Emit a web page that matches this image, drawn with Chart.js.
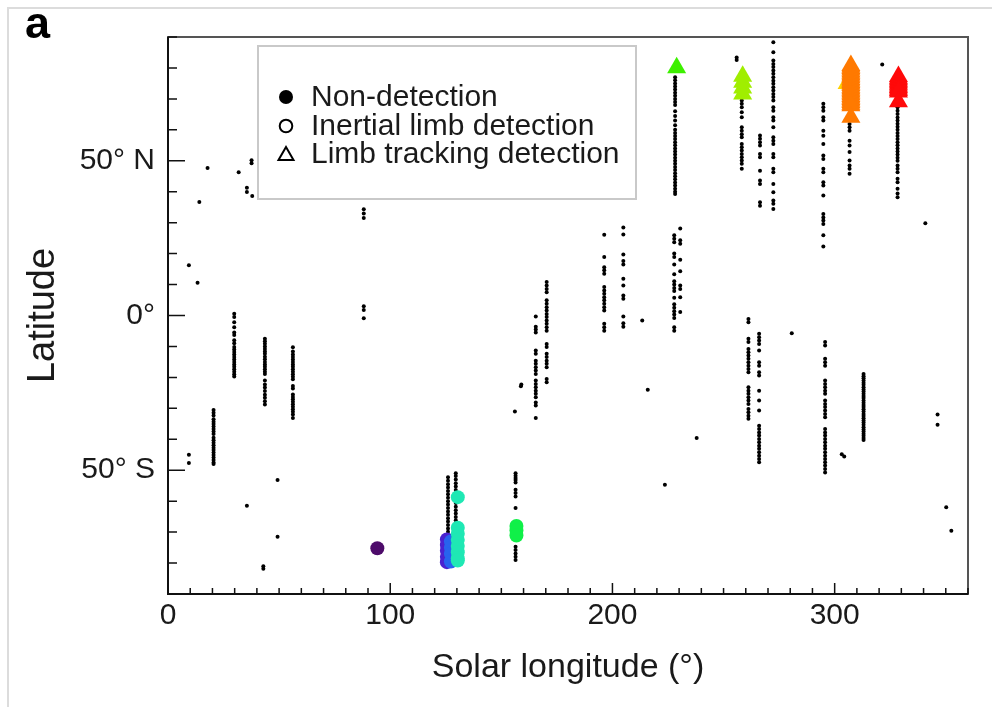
<!DOCTYPE html>
<html>
<head>
<meta charset="utf-8">
<script src="https://cdn.jsdelivr.net/npm/chart.js@4.4.1/dist/chart.umd.min.js"></script>
<style>
  html, body { margin: 0; padding: 0; background: #fff; }
  #wrap { position: relative; width: 992px; height: 707px; overflow: hidden; }
  #frame { position: absolute; left: 7px; top: 7px; width: 1000px; height: 720px;
           border-left: 2px solid #dcdcdc; border-top: 2px solid #dcdcdc; }
  #panel { position: absolute; left: 25px; top: 0px; font: bold 45px "Liberation Sans", Arial, sans-serif;
           line-height: 45px; color: #000; }
  #legend { position: absolute; left: 257px; top: 45px; width: 376px; height: 151px;
            border: 2px solid #c9c9c9; background: #fff;
            font: 30px "Liberation Sans", Arial, sans-serif; color: #1a1a1a; }
  .item { position: absolute; left: 0; height: 30px; line-height: 30px; white-space: nowrap; }
  .item svg { position: absolute; left: 17px; top: 6px; }
  .item span { position: absolute; left: 52px; top: 0; }
</style>
</head>
<body>
<div id="wrap">
  <canvas id="chart" width="992" height="707"></canvas>
  <div id="frame"></div>
  <div id="panel">a</div>
  <div id="legend">
    <div class="item" style="top:34px"><svg width="20" height="20"><circle cx="10" cy="10" r="7" fill="#000"/></svg><span>Non-detection</span></div>
    <div class="item" style="top:63px"><svg width="20" height="20"><circle cx="10" cy="10" r="6.3" fill="none" stroke="#000" stroke-width="2"/></svg><span>Inertial limb detection</span></div>
    <div class="item" style="top:91px"><svg width="20" height="20"><polygon points="10,3 17.5,16 2.5,16" fill="none" stroke="#000" stroke-width="2"/></svg><span>Limb tracking detection</span></div>
  </div>
</div>
<script>
// Non-detections: columns of observations (solar longitude, list of latitudes)
const colLs = [9.4, 20.5, 29.8, 43.6, 56.2, 126.0, 129.5, 156.4, 165.5, 170.4, 196.3, 204.9,
               227.8, 230.5, 261.2, 266.0, 295.7, 313.0, 228.2, 258.2, 266.4, 272.4, 294.9, 306.7, 328.3];
const colLat = [
  [-45.0, -47.7],
  [-30.5, -31.4, -32.3, -33.5, -34.3, -35.1, -35.9, -36.7, -37.5, -38.3, -39.5, -40.3, -41.1, -41.9, -42.7, -43.5, -44.3, -45.1, -45.9, -46.7, -47.5, -48.0],
  [0.6, -0.5, -2.2, -3.8, -5.5, -6.3, -8.0, -9.0, -10.2, -11.0, -11.8, -12.6, -13.4, -14.2, -15.0, -15.8, -16.6, -17.4, -18.2, -19.0, -19.7],
  [-7.5, -8.3, -9.1, -10.0, -10.8, -11.6, -12.4, -13.3, -14.1, -15.0, -15.8, -16.6, -17.4, -18.2, -18.9, -21.0, -22.3, -23.3, -24.4, -25.6, -26.6, -27.7, -28.8],
  [-10.3, -11.6, -12.6, -13.4, -14.2, -15.0, -15.8, -16.6, -17.4, -18.2, -19.0, -19.8, -20.6, -22.8, -23.6, -25.5, -26.3, -27.1, -27.9, -28.7, -29.5, -30.3, -31.1, -32.0, -33.1],
  [-52.3, -53.4, -54.5, -55.6, -56.7, -57.8, -58.9, -60.0, -61.1, -62.2, -63.3, -64.4, -65.5, -66.6, -67.7, -68.8, -69.9, -71.0, -72.1, -73.2, -74.3, -75.4, -76.5, -77.6],
  [-51.0, -51.9, -53.0, -54.2, -55.3, -56.4, -57.5, -60.6, -61.8, -62.9, -64.0, -65.1, -66.2, -67.3],
  [-51.0, -51.8, -52.5, -53.2, -54.0, -56.3, -57.4, -58.5, -62.2, -74.7, -75.8, -76.9, -78.0, -79.0],
  [-0.3, -3.6, -4.5, -5.5, -11.3, -12.4, -14.6, -15.6, -16.7, -17.8, -18.9, -21.0, -22.1, -23.2, -24.3, -25.3, -26.4, -28.1, -29.1, -33.1],
  [10.8, 9.7, 8.6, 7.5, 4.9, 3.8, 2.7, 1.6, 0.5, -0.5, -1.6, -2.7, -3.8, -4.9, -9.2, -10.2, -12.4, -13.4, -14.6, -15.6, -16.7, -20.5, -21.6],
  [26.1, 18.9, 15.6, 14.6, 13.5, 9.2, 8.1, 7.0, 5.9, 4.9, 3.8, 2.7, 1.6, -2.7, -3.8, -4.9],
  [28.4, 26.2, 19.7, 17.6, 16.5, 11.9, 9.7, 6.5, 5.4, -0.3, -2.5, -3.6],
  [25.9, 24.8, 23.7, 20.0, 18.9, 16.5, 13.3, 11.1, 10.0, 8.9, 7.9, 5.7, 3.6, 2.5, 1.4, 0.3, -0.8, -3.8, -4.9],
  [28.1, 24.3, 23.2, 18.0, 14.3, 9.7, 8.6, 5.9, 1.1],
  [-1.1, -2.2, -7.5, -8.6, -10.8, -11.9, -12.9, -14.0, -15.1, -16.2, -17.3, -18.3, -23.2, -24.3, -25.3, -26.4, -27.5, -28.6, -30.2, -31.3, -32.4, -33.4],
  [-5.9, -7.0, -8.1, -9.2, -11.3, -15.1, -16.2, -18.3, -19.4, -24.3, -27.5, -30.7, -35.6, -36.7, -37.8, -38.8, -39.9, -41.0, -42.1, -43.1, -44.2, -45.3, -46.4, -47.4],
  [-8.6, -9.7, -14.0, -15.1, -16.2, -21.0, -22.1, -23.2, -24.3, -25.3, -27.5, -28.6, -29.6, -30.7, -31.8, -32.9, -36.7, -37.8, -38.8, -39.9, -41.0, -42.1, -43.1, -44.2, -45.3, -46.4, -47.4, -48.5, -49.6, -50.7],
  [-18.9, -19.6, -20.3, -21.0, -21.7, -22.4, -23.2, -23.9, -24.6, -25.3, -26.0, -26.7, -27.5, -28.2, -28.9, -29.6, -30.3, -31.0, -31.8, -32.5, -33.2, -33.9, -34.6, -35.3, -36.1, -36.8, -37.5, -38.2, -38.9, -39.6, -40.2],
  [77.0, 76.0, 75.0, 74.0, 73.0, 72.0, 71.0, 70.0, 69.0, 68.0, 66.0, 64.5, 63.0, 61.5, 60.0, 59.0, 58.0, 57.0, 56.0, 55.0, 54.0, 53.0, 52.0, 51.0, 50.0, 49.0, 48.0, 47.0, 46.0, 45.0, 44.0, 43.0, 42.0, 41.0, 40.0, 39.3],
  [69.5, 68.4, 67.3, 65.7, 64.1, 60.8, 59.7, 58.6, 57.6, 55.4, 54.4, 53.3, 52.2, 51.1, 50.1, 49.0, 47.4],
  [58.2, 57.1, 56.0, 54.9, 52.2, 51.1, 46.8, 43.6, 42.5, 36.6, 35.5],
  [88.3, 85.1, 82.4, 81.3, 80.3, 79.2, 78.1, 77.0, 75.9, 74.9, 73.8, 72.7, 71.6, 70.6, 69.5, 67.3, 66.2, 64.1, 63.0, 60.8, 57.6, 56.5, 55.4, 52.2, 51.1, 47.4, 46.3, 42.5, 39.8, 37.2, 36.1, 34.4],
  [68.4, 67.3, 66.2, 64.1, 63.0, 59.7, 58.1, 55.4, 51.7, 50.6, 47.4, 46.3, 43.1, 42.0, 38.8, 32.8, 31.7, 30.7, 29.6, 25.9, 22.3],
  [61.9, 60.8, 59.7, 56.5, 54.9, 52.8, 50.1, 48.5, 47.4, 45.8],
  [67.3, 66.2, 65.1, 64.0, 63.0, 62.0, 61.0, 60.0, 59.0, 58.0, 57.0, 56.0, 55.0, 54.0, 53.0, 52.0, 51.0, 50.0, 48.5, 47.4, 46.3, 44.2, 43.1, 41.0, 39.4, 38.2]
];
// isolated non-detections [Ls, latitude]
const singles = [
  [13.3, 10.6], [9.4, 16.2], [14.1, 36.7], [17.8, 47.7], [31.8, 46.3], [37.6, 50.2], [37.6, 49.2],
  [35.5, 41.3], [35.5, 39.9], [37.9, 38.6], [88.1, 34.3], [88.1, 33.0], [88.1, 31.5], [88.1, 3.0],
  [88.1, 1.8], [88.1, -0.9], [49.3, -53.2], [35.5, -61.5], [49.3, -71.5], [42.9, -81.0], [42.9, -81.8],
  [156.1, -31.0], [158.8, -22.9], [159.0, -22.3], [213.4, -1.6], [215.9, -24.0], [223.6, -54.7],
  [237.9, -39.6], [280.7, -5.7], [303.2, -44.8], [304.3, -45.6], [346.3, -32.0], [346.3, -35.3],
  [350.2, -62.0], [352.5, -69.6], [340.8, 29.8], [321.4, 81.1], [255.9, 83.4], [255.9, 82.6]
];

// Inertial limb detections (filled circles), one colour per group
const circleColors = ['#4d0b6a', '#4a22d0', '#2763ee', '#1fe8b4', '#10f048'];
const circleLs = [94.2, 125.5, 127.3, 130.4, 156.8];
const circleLat = [
  [-75.2],
  [-72.4, -74.2, -76.0, -78.0, -79.7],
  [-73.0, -75.0, -77.0, -79.5],
  [-58.7, -68.6, -70.5, -72.5, -74.5, -76.5, -78.5, -79.2],
  [-68.0, -69.5, -71.1]
];

// Limb tracking detections (triangles)
const triColors = ['#3df000', '#a0ee00', '#ffd000', '#ff7a00', '#ff0a0a'];
const triLs = [228.9, 258.6, 305.6, 307.3, 328.7];
const triLat = [
  [80.1],
  [77.3, 75.4, 73.5, 71.6],
  [75.0],
  [80.8, 80.3, 79.8, 79.3, 78.8, 78.3, 77.8, 77.3, 76.8, 76.3, 75.8, 75.3, 74.8, 74.3, 73.8, 73.3,
   72.8, 72.3, 71.8, 71.3, 70.8, 70.3, 69.8, 69.3, 68.8, 68.3, 67.8, 64.1],
  [77.2, 76.7, 76.2, 75.7, 75.2, 74.7, 74.2, 73.7, 73.2, 72.7, 72.2, 69.1]
];

const xMajor = [0, 100, 200, 300];
const yLabels = { '50': '50° N', '0': '0°', '-50': '50° S' };

const FONT = '"Liberation Sans", Arial, sans-serif';

function toPoints(ls, lats) {
  return lats.map(v => ({ x: ls, y: v }));
}

const blackPts = [];
colLs.forEach((ls, i) => blackPts.push(...toPoints(ls, colLat[i])));
singles.forEach(p => blackPts.push({ x: p[0], y: p[1] }));

const datasets = [];
circleLs.forEach((ls, i) => {
  datasets.push({
    data: toPoints(ls, circleLat[i]),
    pointStyle: 'circle', pointRadius: 7,
    backgroundColor: circleColors[i], borderColor: circleColors[i], borderWidth: 0,
    order: 9 - i   // later groups on top
  });
});
triLs.forEach((ls, i) => {
  datasets.push({
    data: toPoints(ls, triLat[i]),
    pointStyle: 'triangle', pointRadius: 11,
    backgroundColor: triColors[i], borderColor: triColors[i], borderWidth: 0,
    order: 4 - i
  });
});
datasets.push({
  data: blackPts,
  pointStyle: 'circle', pointRadius: 2,
  backgroundColor: '#000', borderWidth: 0,
  order: 20
});

// frame round the plot and inward tick marks
const frameTicks = {
  id: 'frameTicks',
  beforeDatasetsDraw(chart) {
    const { ctx, chartArea: a, scales: { x, y } } = chart;
    ctx.save();
    ctx.lineWidth = 2;
    ctx.strokeStyle = '#555';
    ctx.strokeRect(a.left, a.top, a.right - a.left, a.bottom - a.top);
    ctx.strokeStyle = '#111';
    ctx.beginPath();
    ctx.moveTo(a.left, a.top); ctx.lineTo(a.left, a.bottom); ctx.lineTo(a.right, a.bottom);
    ctx.stroke();
    ctx.lineWidth = 1.5;
    ctx.beginPath();
    x.ticks.forEach(t => {
      const px = x.getPixelForValue(t.value);
      const len = xMajor.includes(t.value) ? 11 : 6;
      ctx.moveTo(px, a.bottom); ctx.lineTo(px, a.bottom - len);
    });
    y.ticks.forEach(t => {
      const py = y.getPixelForValue(t.value);
      const len = yLabels[String(t.value)] ? 17 : 9;
      ctx.moveTo(a.left, py); ctx.lineTo(a.left + len, py);
    });
    ctx.stroke();
    ctx.restore();
  }
};

new Chart(document.getElementById('chart'), {
  type: 'scatter',
  data: { datasets },
  options: {
    responsive: false,
    animation: false,
    events: [],
    layout: { padding: { left: 0, top: 37, right: 24, bottom: 0 } },
    plugins: { legend: { display: false }, tooltip: { enabled: false } },
    scales: {
      x: {
        type: 'linear', min: 0, max: 360,
        afterFit: s => { s.height = 113; },
        grid: { display: false, drawTicks: false },
        border: { display: false },
        ticks: {
          stepSize: 10, autoSkip: false, maxRotation: 0, padding: 4,
          color: '#1a1a1a', font: { family: FONT, size: 30 },
          callback: v => xMajor.includes(v) ? String(v) : ''
        },
        title: {
          display: true, text: 'Solar longitude (°)', color: '#1a1a1a',
          font: { family: FONT, size: 34 }, padding: { top: 0, bottom: 19 }
        }
      },
      y: {
        type: 'linear', min: -90, max: 90,
        afterFit: s => { s.width = 168; },
        grid: { display: false, drawTicks: false },
        border: { display: false },
        ticks: {
          stepSize: 10, autoSkip: false, padding: 13,
          color: '#1a1a1a', font: { family: FONT, size: 30 },
          callback: v => yLabels[String(v)] || ''
        },
        title: {
          display: true, text: 'Latitude', color: '#1a1a1a',
          font: { family: FONT, size: 38 }, padding: { top: 21, bottom: 0 }
        }
      }
    }
  },
  plugins: [frameTicks]
});
</script>
</body>
</html>
